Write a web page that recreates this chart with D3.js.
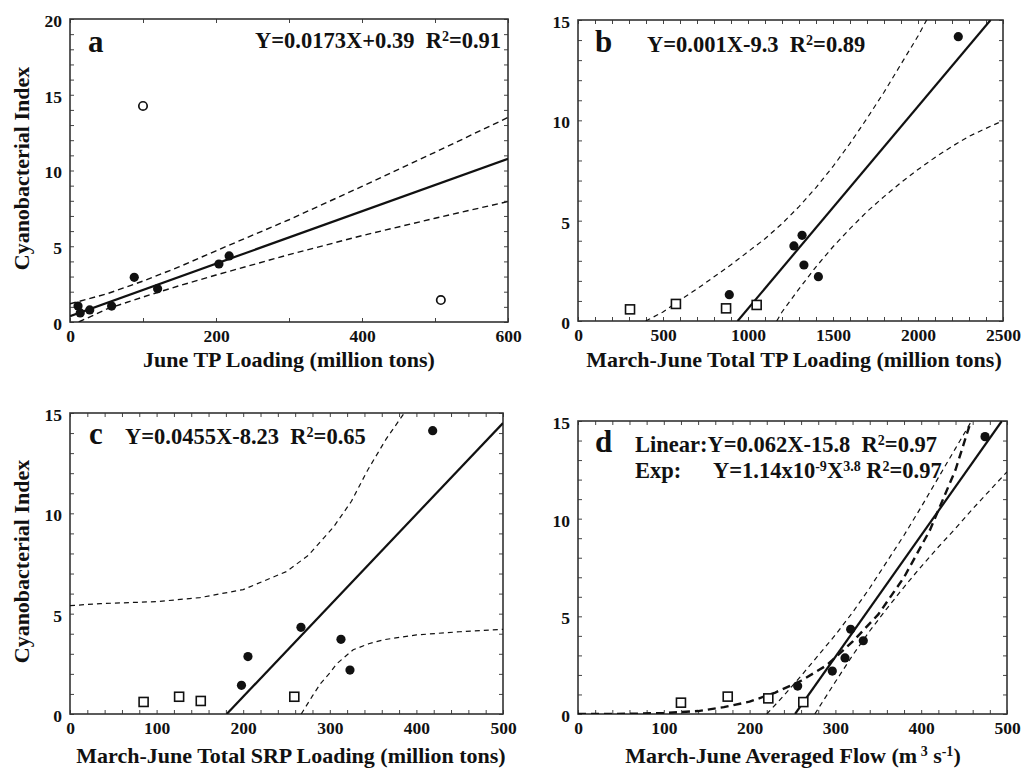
<!DOCTYPE html>
<html><head><meta charset="utf-8">
<script src="https://cdn.jsdelivr.net/npm/d3@7"></script>
<style>
body{margin:0;background:#fff}
text{font-family:"Liberation Serif","Times New Roman",serif;font-weight:bold;fill:#111;white-space:pre}
</style></head><body>
<svg id="chart" width="1027" height="768"></svg>
<script>
// ---------- Panel a: June TP loading ----------
const aXLabels = [0, 200, 400, 600];
const aYLabels = [0, 5, 10, 15, 20];
const aFilledX = [11, 14, 27, 57, 88, 120, 204, 218];
const aFilledY = [1.05, 0.6, 0.8, 1.05, 2.95, 2.2, 3.83, 4.36];
const aOpenX = [100, 508];
const aOpenY = [14.26, 1.45];
const aFitX = [0, 600];
const aFitY = [0.39, 10.77];
const aUpperX = [0, 50, 100, 150, 200, 300, 400, 500, 600];
const aUpperY = [1.2, 1.85, 2.7, 3.65, 4.7, 6.75, 8.95, 11.2, 13.5];
const aLowerX = [12, 50, 100, 150, 200, 300, 400, 500, 600];
const aLowerY = [0, 0.85, 1.65, 2.4, 3.1, 4.45, 5.7, 6.85, 7.95];

// ---------- Panel b: March-June total TP loading ----------
const bXLabels = [0, 500, 1000, 1500, 2000, 2500];
const bYLabels = [0, 5, 10, 15];
const bOpenX = [306, 576, 871, 1051];
const bOpenY = [0.58, 0.85, 0.63, 0.8];
const bFilledX = [890, 1270, 1318, 1329, 1414, 2237];
const bFilledY = [1.31, 3.74, 4.27, 2.79, 2.21, 14.17];
const bFitX = [939, 2427];
const bFitY = [0, 15];
const bUpperX = [398, 500, 576, 700, 800, 900, 1000, 1100, 1200, 1300, 1400, 1500, 1600, 1700, 1800, 1900, 2000, 2051];
const bUpperY = [0, 0.45, 0.9, 1.6, 2.2, 2.8, 3.45, 4.1, 4.85, 5.7, 6.65, 7.7, 8.85, 10.1, 11.4, 12.8, 14.2, 15];
const bLowerX = [1169, 1200, 1300, 1400, 1500, 1600, 1700, 1800, 1900, 2000, 2100, 2200, 2300, 2400, 2500];
const bLowerY = [0, 0.45, 1.6, 2.7, 3.7, 4.6, 5.45, 6.2, 6.9, 7.55, 8.15, 8.7, 9.2, 9.6, 9.98];

// ---------- Panel c: March-June total SRP loading ----------
const cXLabels = [0, 100, 200, 300, 400, 500];
const cYLabels = [0, 5, 10, 15];
const cOpenX = [85, 126, 151, 259];
const cOpenY = [0.6, 0.86, 0.65, 0.86];
const cFilledX = [198, 205.5, 266.7, 312.9, 323.3, 418.8];
const cFilledY = [1.43, 2.86, 4.32, 3.72, 2.19, 14.12];
const cFitX = [181, 500];
const cFitY = [0, 14.5];
const cUpperX = [0, 35, 100, 150, 200, 250, 275, 304, 325, 343, 365, 386];
const cUpperY = [5.4, 5.5, 5.6, 5.8, 6.2, 7.1, 7.9, 9.3, 10.6, 12.1, 13.7, 15];
const cLowerX = [267, 280, 289, 300, 308, 327, 345, 362, 400, 450, 500];
const cLowerY = [0, 0.9, 1.5, 2.05, 2.5, 3.2, 3.5, 3.7, 3.94, 4.1, 4.22];

// ---------- Panel d: March-June averaged flow ----------
const dXLabels = [0, 100, 200, 300, 400, 500];
const dYLabels = [0, 5, 10, 15];
const dOpenX = [120, 174.5, 221.8, 262.6];
const dOpenY = [0.58, 0.89, 0.8, 0.61];
const dFilledX = [256, 296.4, 311.2, 317.8, 332.5, 474.4];
const dFilledY = [1.43, 2.2, 2.87, 4.34, 3.75, 14.2];
const dFitX = [253, 494];
const dFitY = [0, 15];
const dExpX = [0, 60, 100, 140, 170, 200, 230, 260, 290, 320, 350, 380, 410, 440, 458];
const dExpY = [0, 0.01, 0.05, 0.15, 0.35, 0.63, 1.1, 1.7, 2.5, 3.7, 5.1, 7.0, 9.4, 12.5, 15];
const dUpperX = [220, 240, 260, 280, 300, 320, 340, 360, 380, 400, 420, 440, 460];
const dUpperY = [0, 0.95, 1.95, 3.0, 4.05, 5.2, 6.45, 7.8, 9.15, 10.6, 12.1, 13.6, 15.1];
const dLowerX = [276, 300, 320, 340, 360, 380, 400, 420, 440, 460, 480, 500];
const dLowerY = [0, 1.65, 3.0, 4.25, 5.4, 6.5, 7.55, 8.55, 9.5, 10.5, 11.45, 12.4];

const yTitle = "Cyanobacterial Index";

const svg = d3.select("#chart");
const zip = (xs, ys) => xs.map((v, i) => [v, ys[i]]);

function drawPanel(cfg) {
  const x = d3.scaleLinear().domain(cfg.xDom).range([cfg.l, cfg.r]);
  const y = d3.scaleLinear().domain(cfg.yDom).range([cfg.b, cfg.t]);
  const g = svg.append("g");
  const clipId = "clip-" + cfg.id;
  svg.append("clipPath").attr("id", clipId).append("rect")
    .attr("x", cfg.l).attr("y", cfg.t).attr("width", cfg.r - cfg.l).attr("height", cfg.b - cfg.t);

  // inward ticks on all four sides
  const xMinor = d3.range(cfg.xDom[0], cfg.xDom[1] + 1e-9, cfg.xStep);
  const yMinor = d3.range(cfg.yDom[0], cfg.yDom[1] + 1e-9, cfg.yStep);
  const tickStyle = s => s.call(a => a.select(".domain").remove())
    .call(a => a.selectAll("line").attr("stroke", "#444").attr("stroke-width", 1));
  g.append("g").attr("transform", `translate(0,${cfg.b})`)
    .call(d3.axisBottom(x).tickValues(xMinor).tickSize(-4).tickFormat("")).call(tickStyle);
  g.append("g").attr("transform", `translate(0,${cfg.t})`)
    .call(d3.axisTop(x).tickValues(xMinor).tickSize(-4).tickFormat("")).call(tickStyle);
  g.append("g").attr("transform", `translate(${cfg.l},0)`)
    .call(d3.axisLeft(y).tickValues(yMinor).tickSize(-4).tickFormat("")).call(tickStyle);
  g.append("g").attr("transform", `translate(${cfg.r},0)`)
    .call(d3.axisRight(y).tickValues(yMinor).tickSize(-4).tickFormat("")).call(tickStyle);

  // tick labels
  const lab = g.append("g").attr("transform", `translate(0,${cfg.b})`)
    .call(d3.axisBottom(x).tickValues(cfg.xLabels).tickSize(0).tickPadding(8).tickFormat(d3.format("d")));
  lab.attr("font-family", null);
  lab.select(".domain").remove();
  lab.selectAll("text").attr("font-size", 17.5).attr("fill", null);
  const laby = g.append("g").attr("transform", `translate(${cfg.l},0)`)
    .call(d3.axisLeft(y).tickValues(cfg.yLabels).tickSize(0).tickPadding(8).tickFormat(d3.format("d")));
  laby.attr("font-family", null);
  laby.select(".domain").remove();
  laby.selectAll("text").attr("font-size", 17.5).attr("fill", null).attr("dy", "0.42em");

  // frame
  g.append("rect").attr("x", cfg.l).attr("y", cfg.t)
    .attr("width", cfg.r - cfg.l).attr("height", cfg.b - cfg.t)
    .attr("fill", "none").attr("stroke", "#333").attr("stroke-width", 1.6);

  const line = d3.line().x(d => x(d[0])).y(d => y(d[1]));
  const plot = g.append("g").attr("clip-path", `url(#${clipId})`);
  cfg.bands.forEach(bd => {
    plot.append("path").attr("d", line(zip(bd[0], bd[1])))
      .attr("fill", "none").attr("stroke", "#111").attr("stroke-width", cfg.bandW || 1.2)
      .attr("stroke-dasharray", cfg.bandDash || "5,4");
  });
  if (cfg.exp) {
    plot.append("path").attr("d", line(zip(cfg.exp[0], cfg.exp[1])))
      .attr("fill", "none").attr("stroke", "#111").attr("stroke-width", 2.4)
      .attr("stroke-dasharray", "8,5");
  }
  plot.append("path").attr("d", line(zip(cfg.fit[0], cfg.fit[1])))
    .attr("fill", "none").attr("stroke", "#111").attr("stroke-width", 2.2);

  // markers
  if (cfg.openCircles) {
    g.selectAll(null).data(zip(cfg.openCircles[0], cfg.openCircles[1])).join("circle")
      .attr("cx", d => x(d[0])).attr("cy", d => y(d[1])).attr("r", 4.2)
      .attr("fill", "#fff").attr("stroke", "#111").attr("stroke-width", 1.7);
  }
  if (cfg.squares) {
    g.selectAll(null).data(zip(cfg.squares[0], cfg.squares[1])).join("rect")
      .attr("x", d => x(d[0]) - 4.5).attr("y", d => y(d[1]) - 4.5)
      .attr("width", 9).attr("height", 9)
      .attr("fill", "#fff").attr("stroke", "#111").attr("stroke-width", 1.6);
  }
  g.selectAll(null).data(zip(cfg.filled[0], cfg.filled[1])).join("circle")
    .attr("cx", d => x(d[0])).attr("cy", d => y(d[1])).attr("r", 4.6).attr("fill", "#111");

  // panel letter
  g.append("text").attr("x", cfg.letterX).attr("y", cfg.letterY).attr("font-size", 31).text(cfg.id);

  // x axis title
  const xt = g.append("text").attr("x", cfg.xTitleX).attr("y", cfg.xTitleY)
    .attr("text-anchor", "middle").attr("font-size", 22);
  cfg.xTitle(xt);

  if (cfg.yTitle) {
    g.append("text").attr("transform", `translate(29,${(cfg.t + cfg.b) / 2 - 2}) rotate(-90)`)
      .attr("text-anchor", "middle").attr("font-size", 22).text(yTitle);
  }
  return g;
}

function eq(g, xPos, yPos, parts) {
  const t = g.append("text").attr("x", xPos).attr("y", yPos).attr("font-size", 22.5);
  parts.forEach(p => {
    if (typeof p === "string") t.append("tspan").text(p);
    else t.append("tspan").attr("font-size", 14).attr("baseline-shift", "48%").text(p.sup);
  });
}

const ga = drawPanel({
  id: "a", l: 70, r: 508, t: 19, b: 322, xDom: [0, 600], yDom: [0, 20], xStep: 100, yStep: 1,
  xLabels: aXLabels, yLabels: aYLabels,
  filled: [aFilledX, aFilledY], openCircles: [aOpenX, aOpenY],
  fit: [aFitX, aFitY], bands: [[aUpperX, aUpperY], [aLowerX, aLowerY]], bandW: 1.4, bandDash: "6,4",
  letterX: 88, letterY: 52, yTitle: true,
  xTitleX: 289, xTitleY: 367, xTitle: t => t.text("June TP Loading (million tons)")
});
eq(ga, 255, 48, ["Y=0.0173X+0.39  R", {sup: "2"}, "=0.91"]);

const gb = drawPanel({
  id: "b", l: 578, r: 1003, t: 20, b: 321, xDom: [0, 2500], yDom: [0, 15], xStep: 100, yStep: 1,
  xLabels: bXLabels, yLabels: bYLabels,
  filled: [bFilledX, bFilledY], squares: [bOpenX, bOpenY],
  fit: [bFitX, bFitY], bands: [[bUpperX, bUpperY], [bLowerX, bLowerY]],
  letterX: 595, letterY: 52, yTitle: false,
  xTitleX: 794, xTitleY: 367, xTitle: t => t.text("March-June Total TP Loading (million tons)")
});
eq(gb, 647, 52, ["Y=0.001X-9.3  R", {sup: "2"}, "=0.89"]);

const gc = drawPanel({
  id: "c", l: 70, r: 503, t: 413, b: 714, xDom: [0, 500], yDom: [0, 15], xStep: 20, yStep: 1,
  xLabels: cXLabels, yLabels: cYLabels,
  filled: [cFilledX, cFilledY], squares: [cOpenX, cOpenY],
  fit: [cFitX, cFitY], bands: [[cUpperX, cUpperY], [cLowerX, cLowerY]],
  letterX: 89, letterY: 444, yTitle: true,
  xTitleX: 291, xTitleY: 763, xTitle: t => t.text("March-June Total SRP Loading (million tons)")
});
eq(gc, 125, 444, ["Y=0.0455X-8.23  R", {sup: "2"}, "=0.65"]);

const gd = drawPanel({
  id: "d", l: 578, r: 1007, t: 421, b: 714, xDom: [0, 500], yDom: [0, 15], xStep: 20, yStep: 1,
  xLabels: dXLabels, yLabels: dYLabels,
  filled: [dFilledX, dFilledY], squares: [dOpenX, dOpenY],
  fit: [dFitX, dFitY], bands: [[dUpperX, dUpperY], [dLowerX, dLowerY]], exp: [dExpX, dExpY],
  letterX: 595, letterY: 452, yTitle: false,
  xTitleX: 793, xTitleY: 763, xTitle: t => {
    t.append("tspan").text("March-June Averaged Flow (m");
    t.append("tspan").attr("font-size", 14).attr("baseline-shift", "48%").text(" 3");
    t.append("tspan").text(" s");
    t.append("tspan").attr("font-size", 14).attr("baseline-shift", "48%").text("-1");
    t.append("tspan").text(")");
  }
});
eq(gd, 635, 452, ["Linear:Y=0.062X-15.8  R", {sup: "2"}, "=0.97"]);
eq(gd, 635, 478, ["Exp:"]);
eq(gd, 713, 478, ["Y=1.14x10", {sup: "-9"}, "X", {sup: "3.8"}, " R", {sup: "2"}, "=0.97"]);
</script>
</body></html>
